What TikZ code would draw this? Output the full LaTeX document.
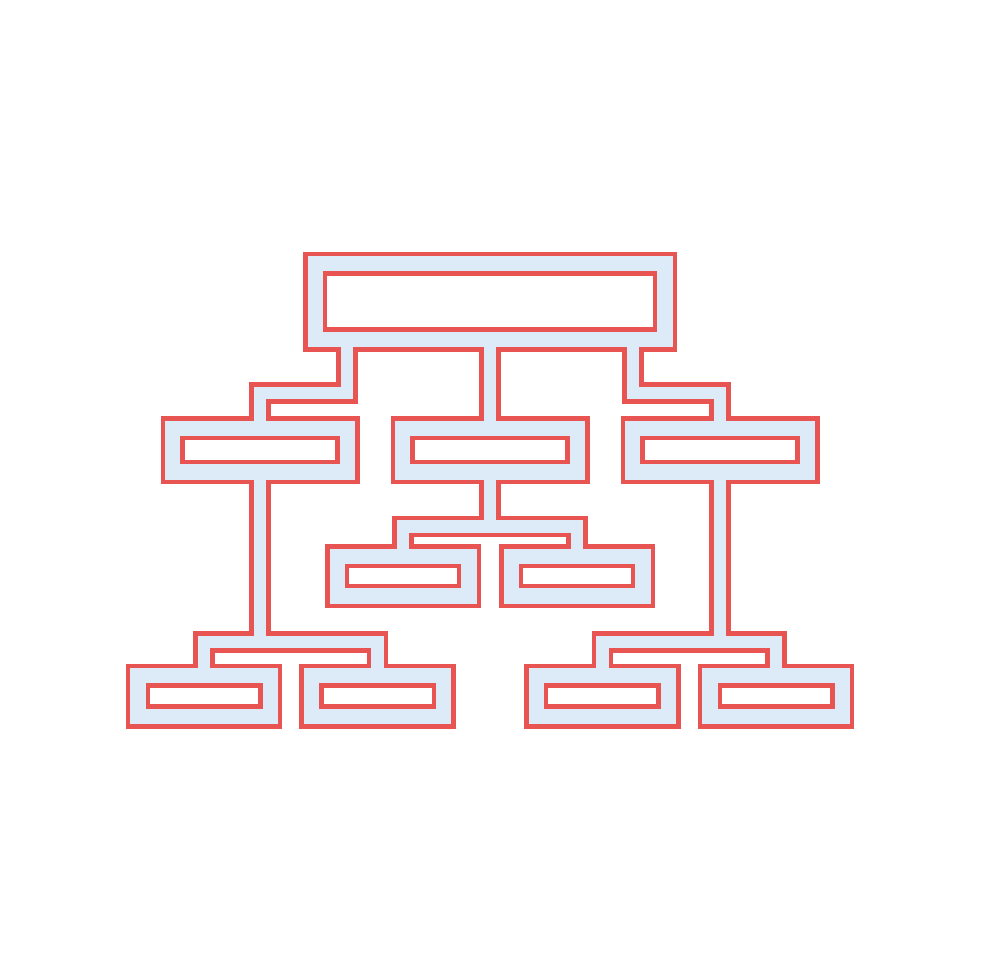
\documentclass[tikz,border=0pt]{standalone}
\definecolor{lianhong}{RGB}{232,84,82}
\definecolor{qianlan}{RGB}{221,235,248}
\pgfdeclarelayer{back}
\pgfsetlayers{back,main}
\begin{document}
\begin{tikzpicture}[x=1pt,y=-1pt,  % 按像素坐标作图, y 向下
    kuang/.style 2 args={rectangle,inner sep=0pt,outer sep=0pt,minimum width=#1,minimum height=#2},
    lian/.style={draw=lianhong,line width=4.5pt,double=qianlan,double distance=12.5pt,line join=miter}]

        \useasboundingbox (0,0) rectangle (980,980);

        % 各层方框
        \node[kuang={365pt}{91pt}] (top) at (490,301.5) {}; % 顶层
        \node[kuang={190pt}{59pt}] (midL) at (260,450) {}; % 第二层左
        \node[kuang={190pt}{59pt}] (midC) at (490,450) {}; % 第二层中
        \node[kuang={190pt}{59pt}] (midR) at (720,450) {}; % 第二层右
        \node[kuang={147pt}{55pt}] (subL) at (403,576) {}; % 中间分支左
        \node[kuang={147pt}{55pt}] (subR) at (577,576) {}; % 中间分支右
        \node[kuang={147.5pt}{56pt}] (botLL) at (204,696) {}; % 左下
        \node[kuang={147.5pt}{56pt}] (botLR) at (377.6,696) {};
        \node[kuang={147.5pt}{56pt}] (botRL) at (602.4,696) {}; % 右下
        \node[kuang={147.5pt}{56pt}] (botRR) at (776,696) {};

        % 顶层到第二层的连线
        \draw[lian] ([xshift=-143pt,yshift=4pt]top.south) |- (midL.north |- 0,393) -- ([yshift=-4pt]midL.north);
        \draw[lian] ([yshift=4pt]top.south) -- ([yshift=-4pt]midC.north);
        \draw[lian] ([xshift=143pt,yshift=4pt]top.south) |- (midR.north |- 0,393) -- ([yshift=-4pt]midR.north);

        % 第二层到下层的 T 形连线
        \draw[lian] ([yshift=4pt]midC.south) -- (midC.south |- 0,526.3)
            ([yshift=-4pt]subL.north) -- (subL.north |- 0,526.3) -| ([yshift=-4pt]subR.north);
        \draw[lian] ([yshift=4pt]midL.south) -- (midL.south |- 0,642)
            ([yshift=-4pt]botLL.north) -- (botLL.north |- 0,642) -| ([yshift=-4pt]botLR.north);
        \draw[lian] ([yshift=4pt]midR.south) -- (midR.south |- 0,642)
            ([yshift=-4pt]botRL.north) -- (botRL.north |- 0,642) -| ([yshift=-4pt]botRR.north);

        % 填充方框, 外框描红, 内部白色小框
        \foreach \k in {top,midL,midC,midR,subL,subR,botLL,botLR,botRL,botRR} {
            \begin{pgfonlayer}{back}
                \draw[lianhong,line width=9pt] (\k.north west) rectangle (\k.south east);
            \end{pgfonlayer}
            \fill[qianlan] (\k.north west) rectangle (\k.south east);
            \filldraw[draw=lianhong,fill=white,line width=4.5pt] ([shift={(17.5pt,-17.5pt)}]\k.north west) rectangle ([shift={(-17.5pt,17.5pt)}]\k.south east);
        }

    \end{tikzpicture}
\end{document}
